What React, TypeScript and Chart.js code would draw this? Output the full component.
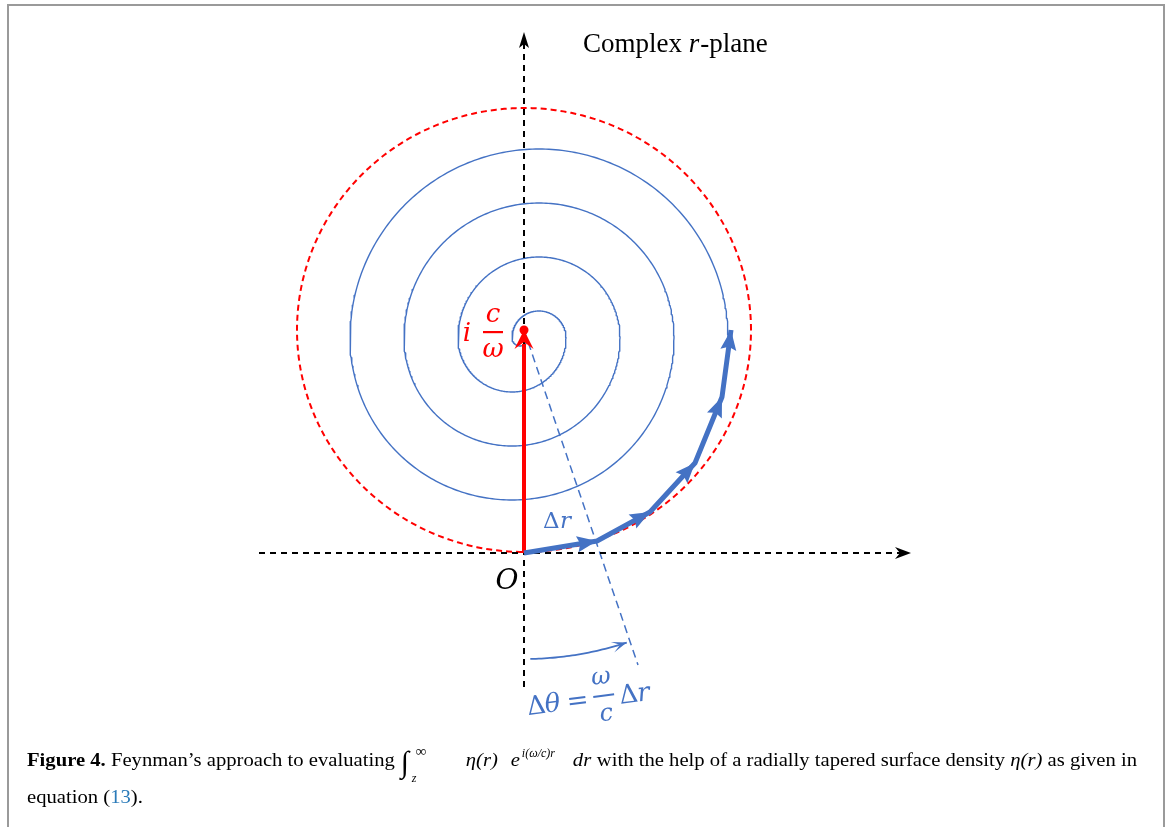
import React, { useEffect, useRef } from 'react';
import { Chart, registerables } from 'chart.js';

Chart.register(...registerables);

const CANVAS_W = 1172;
const CANVAS_H = 827;
// diagram coordinates: origin at O, y upward (units ~ px)
const X_RANGE = [-524, 648];
const Y_RANGE = [-274, 553];

const axisXLine = [-265, 387];
const axisYLine = [-134, 521];
const pole = [0, 223];
const dashedCircleRadii = [227, 222];
const spiralUpperCentre = [15, 215];
const spiralLowerCentre = [-12, 215];
const spiralUpperRadii = [189, 135, 81, 27];
const spiralLowerRadii = [162, 108, 54];
const spiralTailCentre = [-4, 215];
const spiralTailRadius = 8;
const phasorX = [0, 73, 126, 171, 198, 207];
const phasorY = [0, 12, 41, 90, 156, 223];
const radialEnd = [114, -112];
const arcRadius = 329;
const arcAnglesDeg = [-88.9, -71.8];

const BLUE = '#4472c4';
const RED = '#ff0000';

type P = { x: number; y: number };

function arcPts(cx: number, cy: number, rx: number, ry: number, a0: number, a1: number, step = 2): P[] {
  const pts: P[] = [];
  const n = Math.max(2, Math.ceil(Math.abs(a1 - a0) / step));
  for (let i = 0; i <= n; i++) {
    const a = ((a0 + ((a1 - a0) * i) / n) * Math.PI) / 180;
    pts.push({ x: cx + rx * Math.cos(a), y: cy + ry * Math.sin(a) });
  }
  return pts;
}

function spiralPts(): P[] {
  let pts: P[] = [];
  for (let i = 0; i < spiralUpperRadii.length; i++) {
    const r = spiralUpperRadii[i];
    pts = pts.concat(arcPts(spiralUpperCentre[0], spiralUpperCentre[1], r, r, 0, 180, 1).slice(i === 0 ? 0 : 1));
    if (i < spiralLowerRadii.length) {
      const q = spiralLowerRadii[i];
      pts = pts.concat(arcPts(spiralLowerCentre[0], spiralLowerCentre[1], q, q, 180, 360, 1).slice(1));
    }
  }
  pts = pts.concat(arcPts(spiralTailCentre[0], spiralTailCentre[1], spiralTailRadius, spiralTailRadius, 180, 320, 5).slice(1));
  return pts;
}

function line(data: P[], color: string, width: number, order: number, dash: number[] = []) {
  return {
    data,
    borderColor: color,
    backgroundColor: color,
    borderWidth: width,
    borderDash: dash,
    borderJoinStyle: 'round',
    showLine: true,
    pointRadius: 0,
    fill: false,
    tension: 0,
    order,
  };
}

function head(ctx: CanvasRenderingContext2D, tx: number, ty: number, dx: number, dy: number, L: number, w: number, notch: number, color: string) {
  const m = Math.hypot(dx, dy);
  const ux = dx / m, uy = dy / m;
  const px = -uy, py = ux;
  ctx.beginPath();
  ctx.moveTo(tx, ty);
  ctx.lineTo(tx - L * ux + w * px, ty - L * uy + w * py);
  ctx.lineTo(tx - (L - notch) * ux, ty - (L - notch) * uy);
  ctx.lineTo(tx - L * ux - w * px, ty - L * uy - w * py);
  ctx.closePath();
  ctx.fillStyle = color;
  ctx.fill();
}

function txt(ctx: CanvasRenderingContext2D, s: string, x: number, y: number, font: string, color: string, align: CanvasTextAlign = 'left') {
  ctx.font = font;
  ctx.fillStyle = color;
  ctx.textAlign = align;
  ctx.textBaseline = 'alphabetic';
  ctx.fillText(s, x, y);
}

function width(ctx: CanvasRenderingContext2D, s: string, font: string) {
  ctx.font = font;
  return ctx.measureText(s).width;
}

// draws text horizontally scaled by sx; returns end x
function run(ctx: CanvasRenderingContext2D, s: string, x: number, y: number, font: string, color: string, sx: number) {
  ctx.font = font;
  const m = ctx.measureText(s).width;
  ctx.save();
  ctx.translate(x, y);
  ctx.scale(sx, 1);
  ctx.fillStyle = color;
  ctx.textAlign = 'left';
  ctx.textBaseline = 'alphabetic';
  ctx.fillText(s, 0, 0);
  ctx.restore();
  return x + m * sx;
}

const decor = {
  id: 'decor',
  afterDatasetsDraw(chart: any) {
    const ctx: CanvasRenderingContext2D = chart.ctx;
    const sx = chart.scales.x, sy = chart.scales.y;
    const X = (v: number) => sx.getPixelForValue(v);
    const Y = (v: number) => sy.getPixelForValue(v);
    ctx.save();
    // axis arrowheads
    head(ctx, X(axisXLine[1]), Y(0), 1, 0, 16, 6, 5, '#000');
    head(ctx, X(0), Y(axisYLine[1]), 0, -1, 16, 5, 4, '#000');
    // red arrow head + dot
    head(ctx, X(pole[0]), Y(pole[1]), 0, -1, 19, 9.5, 7, RED);
    ctx.beginPath();
    ctx.arc(X(pole[0]), Y(pole[1]), 4.5, 0, Math.PI * 2);
    ctx.fillStyle = RED;
    ctx.fill();
    // phasor heads
    for (let i = 1; i < phasorX.length; i++) {
      const tx = X(phasorX[i]), ty = Y(phasorY[i]);
      const dx = tx - X(phasorX[i - 1]), dy = ty - Y(phasorY[i - 1]);
      head(ctx, tx, ty, dx, dy, 20, 8, 3, BLUE);
    }
    // arc head (tangent, counter-clockwise)
    const a1 = (arcAnglesDeg[1] * Math.PI) / 180;
    const ex = X(pole[0] + arcRadius * Math.cos(a1)), ey = Y(pole[1] + arcRadius * Math.sin(a1));
    head(ctx, ex, ey, -Math.sin(a1), -Math.cos(a1), 15, 5.5, 8, BLUE);

    // labels
    const math = 'italic 26px "DejaVu Serif"';
    txt(ctx, 'Complex ', 583, 52, '27px "Liberation Serif"', '#000');
    const wC = width(ctx, 'Complex ', '27px "Liberation Serif"');
    txt(ctx, 'r', 583 + wC, 52, 'italic 27px "Liberation Serif"', '#000');
    const wr = width(ctx, 'r', 'italic 27px "Liberation Serif"');
    txt(ctx, '-plane', 583 + wC + wr + 1, 52, '27px "Liberation Serif"', '#000');

    txt(ctx, 'i', 467, 341, math, RED, 'center');
    txt(ctx, 'c', 493, 322, math, RED, 'center');
    ctx.fillStyle = RED;
    ctx.fillRect(483, 331, 20, 2.2);
    txt(ctx, 'ω', 493, 357, math, RED, 'center');

    txt(ctx, 'Δ', 543, 528, '23px "DejaVu Serif"', BLUE);
    txt(ctx, 'r', 560, 528, 'italic 23px "DejaVu Serif"', BLUE);

    txt(ctx, 'O', 507, 589, 'italic 28px "DejaVu Serif"', '#000', 'center');

    ctx.save();
    ctx.translate(528, 715);
    ctx.rotate((-7 * Math.PI) / 180);
    txt(ctx, 'Δ', 0, 0, '26px "DejaVu Serif"', BLUE);
    txt(ctx, 'θ', 18, 0, 'italic 26px "DejaVu Serif"', BLUE);
    txt(ctx, '=', 51, 0, '26px "DejaVu Serif"', BLUE, 'center');
    txt(ctx, 'ω', 77, -22, 'italic 24px "DejaVu Serif"', BLUE, 'center');
    ctx.fillStyle = BLUE;
    ctx.fillRect(67, -11, 21, 2);
    txt(ctx, 'c', 78, 15, 'italic 24px "DejaVu Serif"', BLUE, 'center');
    txt(ctx, 'Δ', 93, 0, '26px "DejaVu Serif"', BLUE);
    txt(ctx, 'r', 111, 0, 'italic 26px "DejaVu Serif"', BLUE);
    ctx.restore();

    // caption (single horizontal scale so line 1 ends near the right edge)
    const cf = '19px "Liberation Serif"';
    const ci = 'italic 19px "Liberation Serif"';
    const cb = 'bold 19px "Liberation Serif"';
    const p0 = 'Feynman’s approach to evaluating';
    const p1 = 'with the help of a radially tapered surface density ';
    const p3 = ' as given in';
    const B1 = 766, B2 = 803;
    const mathBlock = 6 + 196;
    const textW = width(ctx, 'Figure 4. ', cb) + width(ctx, p0, cf) + width(ctx, p1, cf) + width(ctx, 'η(r)', ci) + width(ctx, p3, cf);
    const k = (1137 - 27 - mathBlock) / textW;
    let x = run(ctx, 'Figure 4. ', 27, B1, cb, '#000', k);
    x = run(ctx, p0, x, B1, cf, '#000', k);
    const S = x + 6;
    txt(ctx, '∫', S, 772, 'italic 30px "Liberation Serif"', '#000');
    txt(ctx, 'z', S + 11, 782, 'italic 12px "Liberation Serif"', '#000');
    txt(ctx, '∞', S + 15, 756, '15px "Liberation Serif"', '#000');
    run(ctx, 'η(r)', S + 65, B1, ci, '#000', k);
    run(ctx, 'e', S + 110, B1, ci, '#000', k);
    run(ctx, 'i(ω/c)r', S + 121, 757, 'italic 12px "Liberation Serif"', '#000', 1);
    run(ctx, 'dr', S + 172, B1, ci, '#000', k);
    x = run(ctx, p1, S + 196, B1, cf, '#000', k);
    x = run(ctx, 'η(r)', x, B1, ci, '#000', k);
    run(ctx, p3, x, B1, cf, '#000', k);
    x = run(ctx, 'equation (', 27, B2, cf, '#000', k);
    x = run(ctx, '13', x, B2, cf, '#2b7bb9', k);
    run(ctx, ').', x, B2, cf, '#000', k);

    // frame
    ctx.strokeStyle = '#9a9a9a';
    ctx.lineWidth = 2;
    ctx.beginPath();
    ctx.moveTo(8, CANVAS_H);
    ctx.lineTo(8, 5);
    ctx.lineTo(1164, 5);
    ctx.lineTo(1164, CANVAS_H);
    ctx.stroke();
    ctx.restore();
  },
};

export default function App() {
  const ref = useRef<HTMLCanvasElement>(null);
  useEffect(() => {
    const a0 = arcAnglesDeg[0], a1 = arcAnglesDeg[1];
    const datasets = [
      line(phasorX.map((x, i) => ({ x, y: phasorY[i] })), BLUE, 5, 1),
      line([{ x: 0, y: 0 }, { x: pole[0], y: pole[1] - 14 }], RED, 4, 2),
      line([{ x: axisXLine[0], y: 0 }, { x: axisXLine[1] - 10, y: 0 }], '#000', 2, 3, [6, 5]),
      line([{ x: 0, y: axisYLine[0] }, { x: 0, y: axisYLine[1] - 10 }], '#000', 2, 3, [6, 5]),
      line([{ x: pole[0], y: pole[1] }, { x: radialEnd[0], y: radialEnd[1] }], BLUE, 1.5, 4, [8, 5]),
      line(arcPts(pole[0], pole[1], arcRadius, arcRadius, a0, a1, 0.5), BLUE, 1.8, 5),
      line(arcPts(pole[0], pole[1], dashedCircleRadii[0], dashedCircleRadii[1], 0, 360, 1), RED, 2, 6, [6, 4]),
      line(spiralPts(), BLUE, 1.4, 7),
    ];
    const chart = new Chart(ref.current as HTMLCanvasElement, {
      type: 'scatter',
      data: { datasets } as any,
      options: {
        responsive: false,
        maintainAspectRatio: false,
        animation: false,
        devicePixelRatio: 1,
        events: [],
        layout: { padding: 0 },
        plugins: { legend: { display: false }, tooltip: { enabled: false }, title: { display: false } },
        scales: {
          x: { type: 'linear', min: X_RANGE[0], max: X_RANGE[1], display: false },
          y: { type: 'linear', min: Y_RANGE[0], max: Y_RANGE[1], display: false },
        },
      } as any,
      plugins: [decor],
    });
    return () => chart.destroy();
  }, []);
  return (
    <div style={{ position: 'fixed', left: 0, top: 0, width: CANVAS_W, height: CANVAS_H, background: '#fff' }}>
      <canvas ref={ref} width={CANVAS_W} height={CANVAS_H} style={{ display: 'block', width: CANVAS_W, height: CANVAS_H }} />
    </div>
  );
}
